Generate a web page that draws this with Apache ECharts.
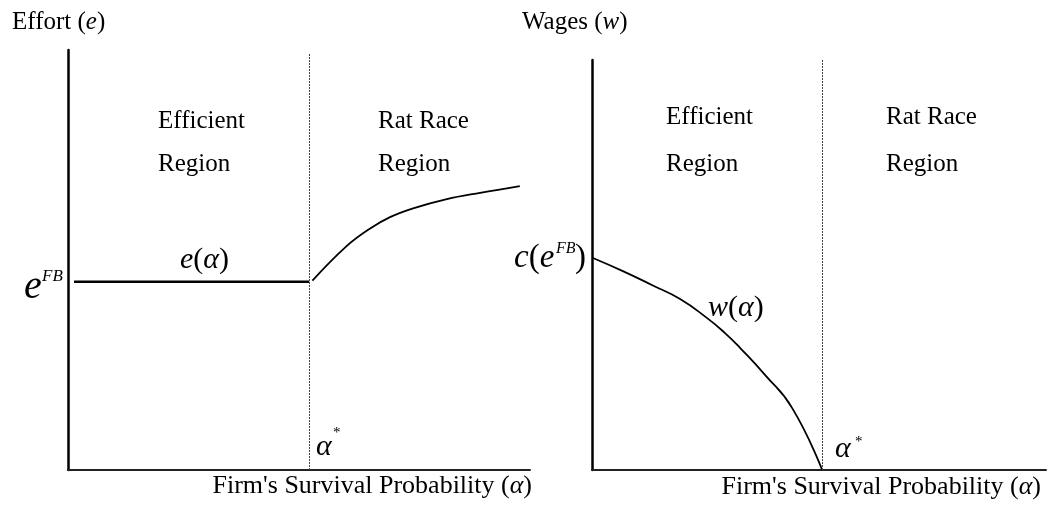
<!DOCTYPE html>
<html>
<head>
<meta charset="utf-8">
<script src="https://cdn.jsdelivr.net/npm/echarts@6/dist/echarts.min.js"></script>
<style>
  html, body { margin: 0; padding: 0; background: #fff; }
  #chart { width: 1050px; height: 510px; }
</style>
</head>
<body>
<div id="chart"></div>
<script>
// --- 数据 (横轴 α 与纵轴均归一化到 0~1) ---
// α* 在左、右两图中的位置
const alphaStar = [0.522, 0.507];
// 左图：e(α)，效率区为水平线 e^FB，之后上升
const effortFB = 0.448;
const effortFlatX = [0.013, 0.522];
const effortRiseX = [0.529, 0.603, 0.654, 0.697, 0.747, 0.820, 0.892, 0.978];
const effortRiseY = [0.451, 0.533, 0.575, 0.602, 0.623, 0.645, 0.660, 0.676];
// 右图：w(α)，从 c(e^FB) 下降到 α* 处为 0
const wageX = [0.002, 0.068, 0.134, 0.194, 0.253, 0.293, 0.326, 0.381, 0.441, 0.507];
const wageY = [0.517, 0.485, 0.450, 0.417, 0.371, 0.334, 0.298, 0.232, 0.151, 0.0];

const serif = '"Liberation Serif", "Times New Roman", serif';
const f = (size, italic) => (italic ? 'italic ' : '') + size + 'px ' + serif;

// 通用坐标轴：只保留轴线
const axisBase = (idx, width, color) => ({
  type: 'value', gridIndex: idx, min: 0, max: 1,
  axisLine: { show: true, lineStyle: { color: color, width: width } },
  axisTick: { show: false }, axisLabel: { show: false }, splitLine: { show: false }
});

// 虚线 α*
const starLine = (x, top) => ({
  silent: true, symbol: ['none', 'none'], animation: false,
  label: { show: false },
  lineStyle: { type: [2, 1], color: '#444', width: 1 },
  data: [[{ coord: [x, 0] }, { coord: [x, top] }]]
});

// 文本工具
const txt = (x, y, text, font, align, rich) => ({
  type: 'text', x: x, y: y, silent: true,
  style: { text: text, font: font, fill: '#000', align: align || 'left', verticalAlign: 'middle', rich: rich }
});
const mathRich = (size) => ({
  i: { font: f(size, true), fill: '#000' },
  r: { font: f(size, false), fill: '#000' }
});

const chart = echarts.init(document.getElementById('chart'));

const option = {
  animation: false,
  backgroundColor: '#fff',
  grid: [
    { left: 68, top: 50, width: 462, height: 420 },
    { left: 592, top: 60, width: 454, height: 410 }
  ],
  xAxis: [axisBase(0, 2, '#222'), axisBase(1, 2, '#222')],
  yAxis: [axisBase(0, 2.5, '#000'), axisBase(1, 2.5, '#000')],
  series: [
    {
      name: 'eFlat', type: 'line', xAxisIndex: 0, yAxisIndex: 0,
      data: effortFlatX.map(x => [x, effortFB]),
      symbol: 'none', lineStyle: { color: '#000', width: 2.5 },
      markLine: starLine(alphaStar[0], 0.993)
    },
    {
      name: 'eRise', type: 'line', xAxisIndex: 0, yAxisIndex: 0,
      data: effortRiseX.map((x, i) => [x, effortRiseY[i]]),
      symbol: 'none', smooth: 0.4, lineStyle: { color: '#000', width: 1.8 }
    },
    {
      name: 'wage', type: 'line', xAxisIndex: 1, yAxisIndex: 1,
      data: wageX.map((x, i) => [x, wageY[i]]),
      symbol: 'none', smooth: 0.5,
      lineStyle: { color: '#000', width: 1.8 },
      markLine: starLine(alphaStar[1], 1)
    }
  ],
  graphic: [
    // 纵轴标题
    txt(12, 22, 'Effort ({i|e})', f(25), 'left', { i: { font: f(25, true) } }),
    txt(522, 22, 'Wages ({i|w})', f(25), 'left', { i: { font: f(25, true) } }),
    // 区域说明
    txt(158, 121, 'Efficient', f(25)),
    txt(158, 164, 'Region', f(25)),
    txt(378, 121, 'Rat Race', f(25)),
    txt(378, 164, 'Region', f(25)),
    txt(666, 117, 'Efficient', f(25)),
    txt(666, 164, 'Region', f(25)),
    txt(886, 117, 'Rat Race', f(25)),
    txt(886, 164, 'Region', f(25)),
    // 曲线标注
    txt(180, 260, '{i|e}{r|(}{i|α}{r|)}', f(30), 'left', mathRich(30)),
    txt(708, 308, '{i|w}{r|(}{i|α}{r|)}', f(30), 'left', mathRich(30)),
    // e^FB
    txt(24, 287, 'e', f(40, true)),
    txt(42, 277, 'FB', f(17, true)),
    // c(e^FB)
    txt(514, 258, '{i|c}{r|(}{i|e}', f(33), 'left', mathRich(33)),
    txt(556, 249, 'FB', f(16, true)),
    txt(575, 258, ')', f(33)),
    // α*
    txt(316, 447, 'α', f(30, true)),
    txt(333, 433, '*', f(15)),
    txt(835, 449, 'α', f(30, true)),
    txt(855, 442, '*', f(15)),
    // 横轴标题
    txt(532, 486, "Firm's Survival Probability ({i|α})", f(26), 'right', { i: { font: f(26, true) } }),
    txt(1041, 487, "Firm's Survival Probability ({i|α})", f(26), 'right', { i: { font: f(26, true) } })
  ]
};

chart.setOption(option);
</script>
</body>
</html>
